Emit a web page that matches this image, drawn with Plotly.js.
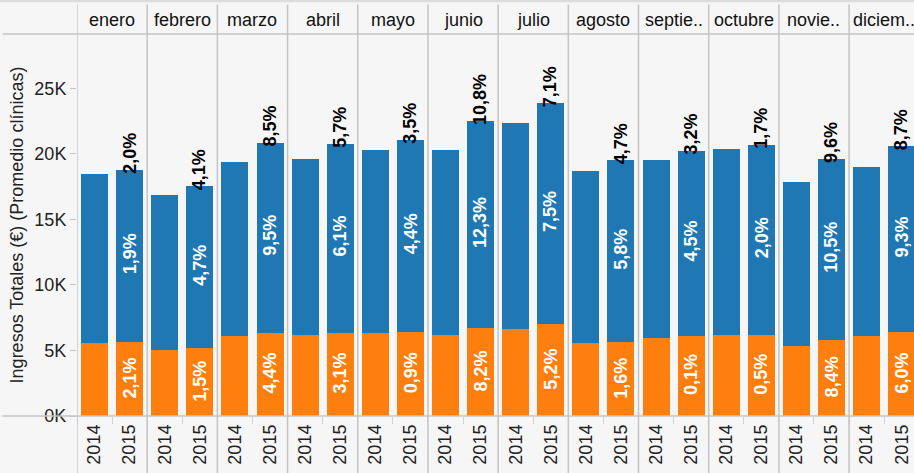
<!DOCTYPE html>
<html>
<head>
<meta charset="utf-8">
<script src="https://cdn.plot.ly/plotly-3.0.1.min.js"></script>
<style>
html,body{margin:0;padding:0;background:#f6f6f6;}
#chart{width:914px;height:473px;}
</style>
</head>
<body>
<div id="chart"></div>
<script>
// ---- data ----
const months = ['enero','febrero','marzo','abril','mayo','junio','julio','agosto','septie..','octubre','novie..','diciem..'];
const years = ['2014','2015'];
const estetica2014 = [5590, 5050, 6120, 6200, 6350, 6200, 6650, 5590, 5970, 6200, 5360, 6120];
const estetica2015 = [5660, 5210, 6350, 6350, 6430, 6730, 7040, 5660, 6120, 6200, 5820, 6430];
const resto2014 = [12880, 11820, 13260, 13410, 13950, 14100, 15710, 13110, 13570, 14170, 12490, 12880];
const resto2015 = [13140, 12340, 14480, 14400, 14630, 15780, 16840, 13880, 14100, 14480, 13790, 14170];
const pctEstetica = ['2,1%','1,5%','4,4%','3,1%','0,9%','8,2%','5,2%','1,6%','0,1%','0,5%','8,4%','6,0%'];
const pctResto = ['1,9%','4,7%','9,5%','6,1%','4,4%','12,3%','7,5%','5,8%','4,5%','2,0%','10,5%','9,3%'];
const pctTotal = ['2,0%','4,1%','8,5%','5,7%','3,5%','10,8%','7,1%','4,7%','3,2%','1,7%','9,6%','8,7%'];
const yTickVals = [0, 5000, 10000, 15000, 20000, 25000];
const yTickText = ['0K','5K','10K','15K','20K','25K'];

// ---- build ----
const cats = [], yearText = [], orange = [], blue = [];
months.forEach((m, i) => {
  years.forEach(y => { cats.push(m + ' ' + y); yearText.push(y); });
  orange.push(estetica2014[i], estetica2015[i]);
  blue.push(resto2014[i], resto2015[i]);
});

const FONT = '"Liberation Sans", Arial, sans-serif';
const ORANGE = '#ff7f0e', BLUE = '#1f77b4', LINE = '#c4c4c4';

const traces = [
  {type:'bar', x:cats, y:orange, marker:{color:ORANGE}, hoverinfo:'none', showlegend:false},
  {type:'bar', x:cats, y:blue, marker:{color:BLUE}, hoverinfo:'none', showlegend:false}
];

const annotations = [];
const shapes = [];
const nSlots = cats.length;
months.forEach((m, i) => {
  const xi = 2*i + 1;
  const o = estetica2015[i], b = resto2015[i];
  annotations.push({x:xi, y:o/2, xref:'x', yref:'y', text:pctEstetica[i], textangle:-90,
    showarrow:false, xanchor:'center', yanchor:'middle', yshift:1,
    font:{family:FONT, size:18, color:'#ffffff', weight:'bold'}});
  annotations.push({x:xi, y:o + b/2, xref:'x', yref:'y', text:pctResto[i], textangle:-90,
    showarrow:false, xanchor:'center', yanchor:'middle', yshift:2,
    font:{family:FONT, size:18, color:'#ffffff', weight:'bold'}});
  annotations.push({x:xi, y:o + b, xref:'x', yref:'y', text:pctTotal[i], textangle:-90,
    showarrow:false, xanchor:'center', yanchor:'bottom', yshift:-6,
    font:{family:FONT, size:18, color:'#000000', weight:'bold'}});
  annotations.push({x:2*i + 0.5, y:1.037, xref:'x', yref:'paper', text:m,
    showarrow:false, xanchor:'center', yanchor:'middle',
    font:{family:FONT, size:18, color:'#111111'}});
  shapes.push({type:'line', xref:'x', yref:'paper', x0:2*i - 0.5, x1:2*i - 0.5,
    y0:-0.16, y1:1.077, line:{color:LINE, width:1.5}});
});
// header line, axis line, top strip
shapes.push({type:'line', xref:'paper', yref:'paper', x0:-0.089, x1:1.01, y0:1, y1:1, line:{color:LINE, width:1.5}});
shapes.push({type:'line', xref:'paper', yref:'paper', x0:-0.089, x1:1.01, y0:0, y1:0, line:{color:LINE, width:1.5}});
shapes.push({type:'rect', xref:'paper', yref:'paper', x0:-0.1, x1:1.01, y0:1.083, y1:1.1, line:{width:0}, fillcolor:'#dcdcdc'});

const layout = {
  width:914, height:473,
  margin:{l:77, r:0, t:34, b:57},
  paper_bgcolor:'#f6f6f6', plot_bgcolor:'#f6f6f6',
  barmode:'stack', bargap:0.23,
  font:{family:FONT, size:18, color:'#333333'},
  xaxis:{type:'category', categoryorder:'array', categoryarray:cats,
    range:[-0.5, nSlots - 0.65], tickvals:cats, ticktext:yearText, tickangle:-90,
    ticks:'outside', tickson:'boundaries', ticklen:7, tickcolor:'#d0d0d0', tickwidth:1,
    ticklabelstandoff:4,
    showgrid:false, zeroline:false, showline:false, fixedrange:true,
    tickfont:{family:FONT, size:18, color:'#222222'}},
  yaxis:{range:[0, 29140], tickvals:yTickVals, ticktext:yTickText,
    ticks:'outside', ticklen:6, tickcolor:'#c4c4c4', showgrid:false, zeroline:false,
    showline:false, fixedrange:true,
    tickfont:{family:FONT, size:18, color:'#222222'},
    title:{text:'Ingresos Totales (€) (Promedio clínicas)', standoff:6,
      font:{family:FONT, size:18, color:'#222222'}}},
  annotations:annotations,
  shapes:shapes
};

Plotly.newPlot('chart', traces, layout, {displayModeBar:false, staticPlot:true});
</script>
</body>
</html>
